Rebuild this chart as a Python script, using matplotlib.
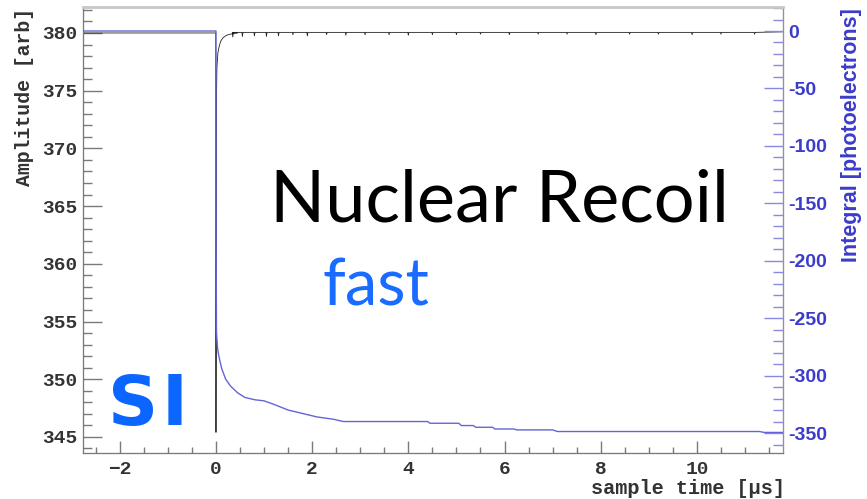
import matplotlib.pyplot as plt
from matplotlib.ticker import MultipleLocator

# Amplitude trace (black), sample time in us
amp_time = [-2.77, -0.005, 0.0, 0.01, 0.02, 0.04, 0.07, 0.1, 0.15, 0.22, 0.3, 0.45, 11.79]
amp_value = [380.0, 380.0, 345.4, 374.5, 377.0, 378.3, 378.9, 379.3, 379.6, 379.8, 379.9, 380.0, 380.1]

# small downward noise spikes on the amplitude baseline
dip_time = [0.35, 0.55, 0.8, 1.05, 1.3, 1.6, 1.9, 2.3, 2.7, 3.1, 3.6, 4.0, 4.5,
            5.0, 5.5, 6.1, 6.7, 7.3, 7.9, 8.6, 9.2, 9.9, 10.5, 11.2]
dip_depth = [0.4, 0.35, 0.3, 0.35, 0.3, 0.2, 0.3, 0.2, 0.25, 0.2, 0.2, 0.25, 0.2,
             0.2, 0.15, 0.2, 0.15, 0.15, 0.2, 0.15, 0.15, 0.2, 0.15, 0.15]

# Integral trace (blue), photoelectrons
int_time = [-2.77, 0.0, 0.003, 0.01, 0.03, 0.05, 0.08, 0.12, 0.2, 0.3, 0.45, 0.6, 0.8, 1.0,
            1.2, 1.5, 1.75, 2.1, 2.44, 2.65, 4.4, 4.45, 5.05, 5.1, 5.35, 5.4, 5.75, 5.8,
            6.2, 6.25, 7.0, 7.1, 11.3, 11.4, 11.79]
int_value = [0, 0, -180, -262, -275, -281, -287, -294, -303, -309, -315, -319, -321, -322,
             -325, -330, -332.5, -336, -338, -340, -340, -341.5, -341.5, -343.5, -343.5, -345,
             -345, -346.5, -346.5, -347.3, -347.3, -348.7, -348.7, -349.5, -349.5]

amp_ticks = [345, 350, 355, 360, 365, 370, 375, 380]
int_ticks = [0, -50, -100, -150, -200, -250, -300, -350]
time_ticks = [-2, 0, 2, 4, 6, 8, 10]

# build amplitude series with the noise spikes
t_all = list(amp_time[:-1])
v_all = list(amp_value[:-1])
for t, d in zip(dip_time, dip_depth):
    t_all += [t - 0.01, t, t + 0.01]
    v_all += [380.05, 380.05 - d, 380.05]
t_all.append(amp_time[-1])
v_all.append(amp_value[-1])

mono = 'Liberation Mono'
blue_txt = '#3c3ccc'
grey = '#7a7a7a'

fig = plt.figure(figsize=(8.67, 4.99), dpi=100)
ax = fig.add_axes([83 / 867, 46 / 499, 700 / 867, 446 / 499])
ax2 = ax.twinx()

ax.plot(t_all, v_all, color='#222222', lw=0.6, zorder=2)
ax2.plot(int_time, int_value, color='#6464d8', lw=1.0, zorder=3)

ax.set_xlim(-2.765, 11.79)
ax.set_ylim(343.61, 382.25)
ax2.set_ylim(-367.4, 20.9)

ax.set_xticks(time_ticks)
ax.xaxis.set_minor_locator(MultipleLocator(0.5))
ax.set_yticks(amp_ticks)
ax.yaxis.set_minor_locator(MultipleLocator(1))
ax2.set_yticks(int_ticks)
ax2.yaxis.set_minor_locator(MultipleLocator(10))

ax.tick_params(axis='y', which='major', direction='in', length=14, width=1, color=grey, pad=4)
ax.tick_params(axis='y', which='minor', direction='in', length=6.5, width=1, color=grey)
ax.tick_params(axis='x', which='major', direction='in', length=8.5, width=1, color=grey, pad=6)
ax.tick_params(axis='x', which='minor', direction='in', length=4.3, width=1, color=grey)
ax2.tick_params(axis='y', which='major', direction='in', length=14, width=1, color='#8888e0', pad=4)
ax2.tick_params(axis='y', which='minor', direction='in', length=7, width=1, color='#8888e0')

for lab in ax.get_xticklabels() + ax.get_yticklabels():
    lab.set_fontfamily(mono)
    lab.set_fontweight('bold')
    lab.set_fontsize(14)
    lab.set_color('#333333')
ax.set_xticklabels(['\u22122' if v < 0 else str(v) for v in time_ticks])
for lab in ax2.get_yticklabels():
    lab.set_fontfamily('Liberation Sans')
    lab.set_fontweight('bold')
    lab.set_fontsize(14)
    lab.set_color(blue_txt)
ax2.set_yticklabels(['0' if v == 0 else '-' + str(-v) for v in int_ticks])

for s in ['left', 'bottom']:
    ax2.spines[s].set_color(grey)
ax2.spines['top'].set_color('#c8c8c8')
ax2.spines['top'].set_linewidth(2)
ax2.spines['right'].set_color('#8888e0')

# axis titles, ROOT style
fig.text(25 / 867, 1 - 8 / 499, 'Amplitude [arb]', rotation=90, ha='center', va='top',
         family=mono, weight='bold', fontsize=14.3, color='#333333')
fig.text(785 / 867, 1 - 488 / 499, 'sample time [\u00b5s]', ha='right', va='center',
         family=mono, weight='bold', fontsize=14.6, color='#333333')
fig.text(851 / 867, 1 - 8 / 499, 'Integral [photoelectrons]', rotation=90, ha='center', va='top',
         family='Liberation Sans', weight='bold', fontsize=15.5, color=blue_txt)

# slide annotations
fig.text(270 / 867, 1 - 222 / 499, 'Nuclear Recoil', ha='left', va='baseline',
         family='Lato', fontsize=52, color='black')
fig.text(322 / 867, 1 - 305 / 499, 'fast', ha='left', va='baseline',
         family='Lato', fontsize=47, color='#1a6bff')
fig.text(108 / 867, 1 - 425 / 499, 'S', ha='left', va='baseline',
         family='DejaVu Sans', weight='bold', fontsize=50, color='#0a66ff')
fig.text(162 / 867, 1 - 425 / 499, 'I', ha='left', va='baseline',
         family='DejaVu Sans', weight='bold', fontsize=50, color='#0a66ff')

fig.savefig('out.png', dpi=100)
